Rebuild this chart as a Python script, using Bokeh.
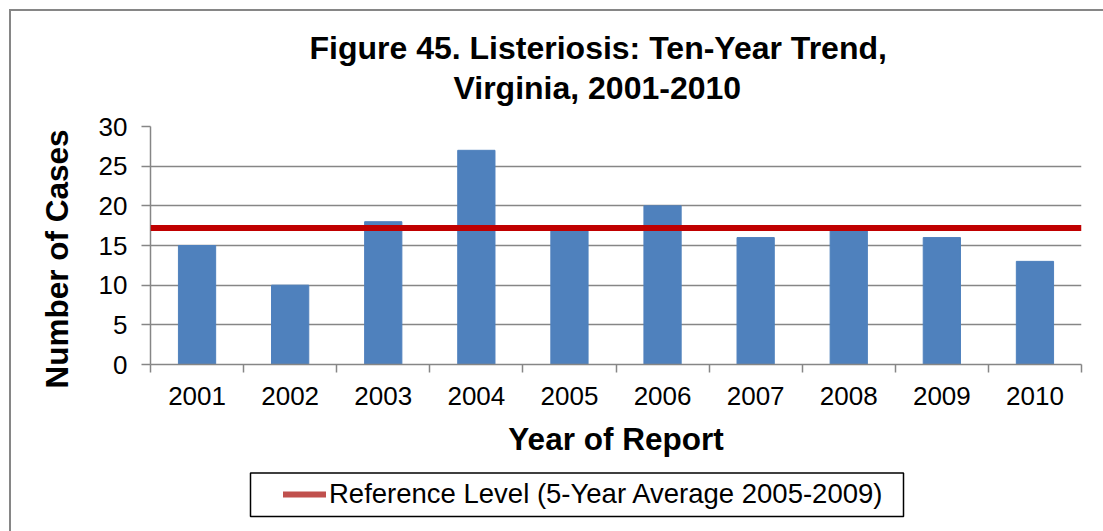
from bokeh.plotting import figure
from bokeh.layouts import column
from bokeh.models import Span, Legend, LegendItem, Title, FixedTicker, Range1d, BoxAnnotation
from bokeh.embed import file_html
from bokeh.resources import INLINE

# ---- data ----
years = [2001, 2002, 2003, 2004, 2005, 2006, 2007, 2008, 2009, 2010]
cases = [15, 10, 18, 27, 17, 20, 16, 17, 16, 13]
ref_years = [2005, 2006, 2007, 2008, 2009]
y_ticks = [0, 5, 10, 15, 20, 25, 30]
title_lines = ["Figure 45. Listeriosis: Ten-Year Trend,", "Virginia, 2001-2010"]
y_title = "Number of Cases"
x_title = "Year of Report"
ref_label = "Reference Level (5-Year Average 2005-2009)"

ref_vals = [c for yv, c in zip(years, cases) if yv in ref_years]
ref_level = sum(ref_vals) / len(ref_vals)

FONT = "Liberation Sans"
GRAY = "#868686"
W = 1092
H_MAIN = 460
H_LEG = 60
FRAME_L, FRAME_R, FRAME_T, FRAME_B = 139, 22, 115, 353

fig = figure(width=W, height=H_MAIN, output_backend="svg", toolbar_location=None,
             title=None,
             x_range=Range1d(years[0] - 0.5, years[-1] + 0.5),
             y_range=Range1d(y_ticks[0], y_ticks[-1]),
             min_border_left=FRAME_L, min_border_top=FRAME_T, min_border_right=FRAME_R,
             min_border_bottom=H_MAIN - FRAME_B, outline_line_color=None,
             background_fill_color="white", border_fill_color="white")

# bars
fig.vbar(x=years, top=cases, width=0.4, fill_color="#4F81BD", line_color="#4F81BD")

# reference level
fig.add_layout(Span(location=ref_level, dimension="width", line_color="#C00000", line_width=6))

# axes
yax = fig.yaxis[0]
yax.ticker = FixedTicker(ticks=y_ticks)
yax.axis_line_color = GRAY
yax.axis_line_width = 1.5
yax.major_tick_line_color = GRAY
yax.major_tick_line_width = 1.5
yax.major_tick_out = 9
yax.major_tick_in = 0
yax.minor_tick_line_color = None
yax.major_label_text_font = FONT
yax.major_label_text_font_size = "26px"
yax.major_label_text_color = "black"
yax.major_label_standoff = 14

xax = fig.xaxis[0]
xax.ticker = FixedTicker(ticks=years, minor_ticks=[yv - 0.5 for yv in years] + [years[-1] + 0.5])
xax.axis_line_color = GRAY
xax.axis_line_width = 1.5
xax.major_tick_out = 0
xax.major_tick_in = 0
xax.minor_tick_line_color = GRAY
xax.minor_tick_line_width = 1.5
xax.minor_tick_out = 8
xax.minor_tick_in = 0
xax.major_label_text_font = FONT
xax.major_label_text_font_size = "26px"
xax.major_label_text_color = "black"
xax.major_label_standoff = 14
xax.axis_label = x_title
xax.axis_label_text_font = FONT
xax.axis_label_text_font_size = "31.5px"
xax.axis_label_text_font_style = "bold"
xax.axis_label_text_color = "black"
xax.axis_label_standoff = 13

fig.xgrid.grid_line_color = None
fig.ygrid.ticker = FixedTicker(ticks=y_ticks)
fig.ygrid.grid_line_color = GRAY
fig.ygrid.grid_line_width = 1.5

# y axis title as a side title (outside the axis)
fig.add_layout(Title(text=y_title, align="left", offset=-24, standoff=42,
                     text_font=FONT, text_font_size="31.5px", text_font_style="bold",
                     text_color="black"), "left")

# chart titles: spacer nearest the frame, then line 2, then line 1
fig.add_layout(Title(text=" ", text_font_size="10px", standoff=7), "above")
fig.add_layout(Title(text=title_lines[1], align="left", offset=303, standoff=2,
                     text_font=FONT, text_font_size="32px", text_font_style="bold",
                     text_color="black"), "above")
fig.add_layout(Title(text=title_lines[0], align="left", offset=159, standoff=2,
                     text_font=FONT, text_font_size="32px", text_font_style="bold",
                     text_color="black"), "above")

# legend strip (second figure; its frame is aligned with the main frame, 1 unit = 1 px)
leg_w = W - FRAME_L - FRAME_R
leg_fig = figure(width=W, height=H_LEG, output_backend="svg", toolbar_location=None,
                 title=None, x_axis_location=None, y_axis_location=None,
                 x_range=Range1d(0, leg_w), y_range=Range1d(0, H_LEG),
                 min_border=0, outline_line_color=None,
                 background_fill_color="white", border_fill_color="white")
leg_fig.xgrid.visible = False
leg_fig.ygrid.visible = False
# reference series for the legend entry (lies outside this strip's view)
r_leg = leg_fig.line(x=years, y=[ref_level] * len(years), line_color="#C0504D",
                     line_width=6, line_cap="round")
leg_fig.add_layout(BoxAnnotation(left=100, right=753, bottom=15, top=58.5,
                                 fill_color=None, fill_alpha=0.0,
                                 line_color="black", line_alpha=1.0, line_width=1.5))
legend = Legend(items=[LegendItem(label=ref_label, renderers=[r_leg])],
                location=(133, 21), orientation="vertical",
                border_line_color=None, background_fill_alpha=0.0,
                padding=0, margin=0, glyph_width=43, glyph_height=30,
                label_height=30, label_standoff=3,
                label_text_font=FONT, label_text_font_size="27.5px",
                label_text_color="black")
leg_fig.add_layout(legend)

p = column(fig, leg_fig, spacing=0)
p.styles = {"margin-left": "9px", "margin-top": "9px",
            "border-top": "2px solid #868686", "border-left": "2px solid #868686"}

open("out.html", "w").write(file_html(p, INLINE))
